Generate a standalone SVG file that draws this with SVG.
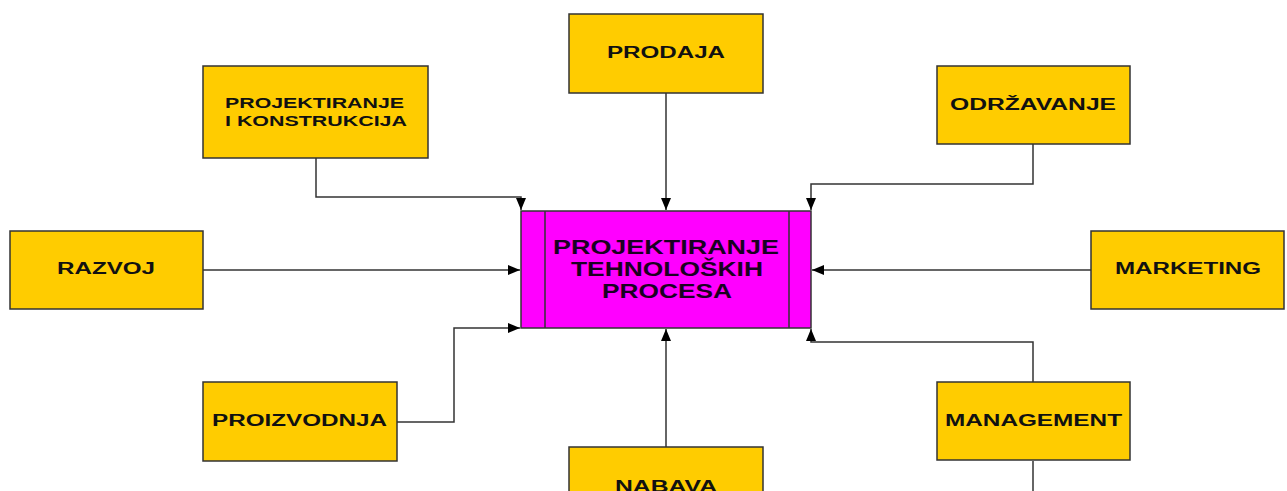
<svg xmlns="http://www.w3.org/2000/svg" width="1287" height="491" viewBox="0 0 1287 491">
<style>
.box{fill:#FFCC00;stroke:#333;stroke-width:1.5}
.main{fill:#FF00FF;stroke:#333;stroke-width:1.5}
.lbl{font-family:"Liberation Sans",Arial,sans-serif;font-weight:bold;font-size:16px;fill:#111;text-anchor:start}
.lbl2{font-family:"Liberation Sans",Arial,sans-serif;font-weight:bold;font-size:14px;fill:#111}
.mlbl{font-family:"Liberation Sans",Arial,sans-serif;font-weight:bold;font-size:20.5px;fill:#1a0022}
.con{fill:none;stroke:#333;stroke-width:1.5}
</style>
<defs>
<marker id="arr" markerUnits="userSpaceOnUse" markerWidth="13" markerHeight="11" refX="12" refY="5" orient="auto">
<path d="M0,0 L12,5 L0,10 z" fill="#000"/>
</marker>
</defs>
<rect width="1287" height="491" fill="#fff"/>
<g id="connectors">
<path class="con" d="M316,158 V197 H521 V210" marker-end="url(#arr)"/>
<path class="con" d="M666,93 V210" marker-end="url(#arr)"/>
<path class="con" d="M1033,144 V184 H811 V210" marker-end="url(#arr)"/>
<path class="con" d="M203,270 H520" marker-end="url(#arr)"/>
<path class="con" d="M1091,270 H812" marker-end="url(#arr)"/>
<path class="con" d="M397,422 H454 V328 H520" marker-end="url(#arr)"/>
<path class="con" d="M666,447 V329" marker-end="url(#arr)"/>
<path class="con" d="M1033,382 V342 H811 V329" marker-end="url(#arr)"/>
<path class="con" d="M1033,461 V491"/>
</g>
<g id="center">
<rect class="main" x="521" y="211" width="290" height="117"/>
<line class="con" x1="545" y1="211" x2="545" y2="328"/>
<line class="con" x1="789" y1="211" x2="789" y2="328"/>
<text class="mlbl" x="553" y="254" textLength="226" lengthAdjust="spacingAndGlyphs">PROJEKTIRANJE</text>
<text class="mlbl" x="571" y="276" textLength="192" lengthAdjust="spacingAndGlyphs">TEHNOLOŠKIH</text>
<text class="mlbl" x="602" y="298" textLength="130" lengthAdjust="spacingAndGlyphs">PROCESA</text>
</g>
<g id="prodaja">
<rect class="box" x="569" y="14" width="194" height="79"/>
<text class="lbl" x="607" y="58" textLength="118" lengthAdjust="spacingAndGlyphs">PRODAJA</text>
</g>
<g id="pik">
<rect class="box" x="203" y="66" width="225" height="92"/>
<text class="lbl2" x="225" y="108" textLength="179" lengthAdjust="spacingAndGlyphs">PROJEKTIRANJE</text>
<text class="lbl2" x="225" y="126" textLength="182" lengthAdjust="spacingAndGlyphs">I KONSTRUKCIJA</text>
</g>
<g id="odrzavanje">
<rect class="box" x="937" y="66" width="193" height="78"/>
<text class="lbl" x="950" y="110" textLength="166" lengthAdjust="spacingAndGlyphs">ODRŽAVANJE</text>
</g>
<g id="razvoj">
<rect class="box" x="10" y="231" width="193" height="78"/>
<text class="lbl" x="57" y="274" textLength="98" lengthAdjust="spacingAndGlyphs">RAZVOJ</text>
</g>
<g id="marketing">
<rect class="box" x="1091" y="231" width="193" height="78"/>
<text class="lbl" x="1115" y="274" textLength="146" lengthAdjust="spacingAndGlyphs">MARKETING</text>
</g>
<g id="proizvodnja">
<rect class="box" x="203" y="382" width="194" height="79"/>
<text class="lbl" x="212" y="426" textLength="175" lengthAdjust="spacingAndGlyphs">PROIZVODNJA</text>
</g>
<g id="management">
<rect class="box" x="937" y="382" width="193" height="78"/>
<text class="lbl" x="945" y="426" textLength="177" lengthAdjust="spacingAndGlyphs">MANAGEMENT</text>
</g>
<g id="nabava">
<rect class="box" x="569" y="447" width="194" height="79"/>
<text class="lbl" x="615" y="492" textLength="102" lengthAdjust="spacingAndGlyphs">NABAVA</text>
</g>
</svg>
